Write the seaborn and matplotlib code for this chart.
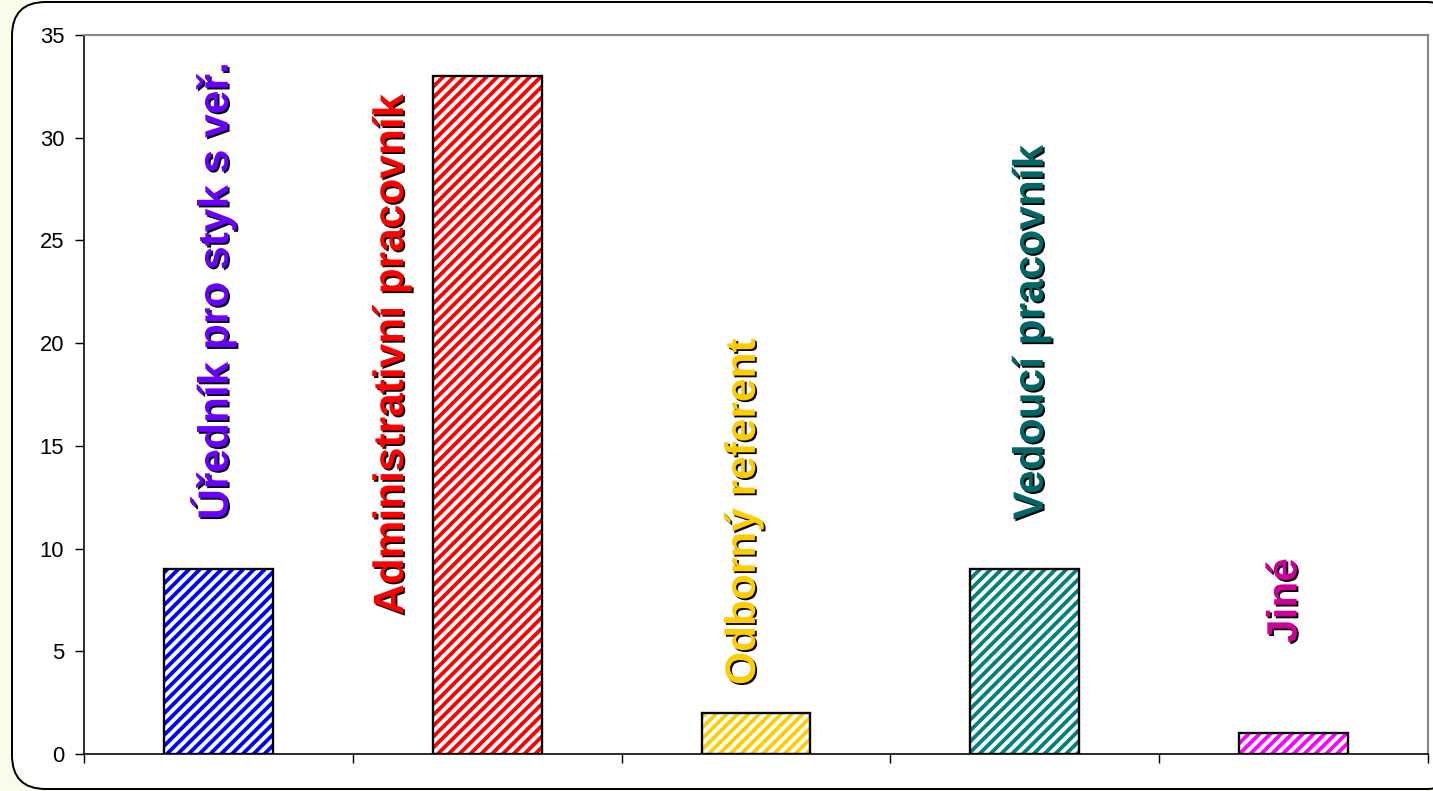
import matplotlib
matplotlib.use("Agg")
import matplotlib.pyplot as plt
import matplotlib.patheffects as pe
from matplotlib.patches import FancyBboxPatch
import seaborn as sns
import pandas as pd

# ---- data ----
categories = ["Úředník pro styk s veř.", "Administrativní pracovník",
              "Odborný referent", "Vedoucí pracovník", "Jiné"]
values = [9, 33, 2, 9, 1]
y_ticks = [0, 5, 10, 15, 20, 25, 30, 35]

# ---- styles / label placement ----
bar_colors = ["#0000ff", "#ff0000", "#ffcc00", "#008080", "#ff00ff"]
label_colors = ["#6a00ff", "#ff0000", "#ffcc00", "#006666", "#cc0099"]
label_dx = [-0.02, -0.354, -0.045, 0.026, -0.03]
label_y = [11.4, 6.77, 3.36, 11.4, 5.4]

sns.set_theme(style="white")
plt.rcParams["font.family"] = ["Liberation Sans", "DejaVu Sans"]
plt.rcParams["hatch.linewidth"] = 2.1

DPI = 130
W, H = 1433, 791
fig = plt.figure(figsize=(W / DPI, H / DPI), dpi=DPI, facecolor="#fbfbe9")

# rounded chart-area frame
box = FancyBboxPatch((12 / DPI, 2 / DPI), (1460 - 12) / DPI, (789 - 2) / DPI,
                     boxstyle="round,pad=0,rounding_size=0.26",
                     transform=fig.dpi_scale_trans, facecolor="white",
                     edgecolor="black", linewidth=1.1, zorder=-1)
fig.add_artist(box)

ax = fig.add_axes([84 / W, 1 - 754 / H, (1428 - 84) / W, (754 - 35) / H])
ax.set_facecolor("white")

df = pd.DataFrame({"cat": categories, "val": values})

# hatched fill layer
sns.barplot(data=df, x="cat", y="val", hue="cat", palette=bar_colors,
            width=0.405, saturation=1, errorbar=None, legend=False,
            linewidth=0, ax=ax)
for patch, col in zip(ax.patches, bar_colors):
    patch.set_facecolor("white")
    patch.set_edgecolor(col)
    patch.set_hatch("////")
    patch.set_linewidth(0)

# black outline layer
sns.barplot(data=df, x="cat", y="val", color="black", fill=False,
            width=0.405, errorbar=None, linewidth=1.3, ax=ax)

ax.set_xlim(-0.5, len(categories) - 0.5)
ax.set_ylim(0, 35)
ax.set_yticks(y_ticks)
ax.set_yticklabels([str(t) for t in y_ticks], fontsize=12.2, color="black")
ax.set_xticks([i - 0.5 for i in range(len(categories) + 1)])
ax.set_xticklabels([""] * (len(categories) + 1))
ax.set_xlabel("")
ax.set_ylabel("")
ax.tick_params(axis="both", which="both", direction="out", bottom=True,
               left=True, length=5, width=0.8, color="black", pad=6)

for side in ["left", "bottom"]:
    ax.spines[side].set_color("black")
    ax.spines[side].set_linewidth(0.9)
for side in ["top", "right"]:
    ax.spines[side].set_color("#888888")
    ax.spines[side].set_linewidth(1.2)

for i, (cat, col) in enumerate(zip(categories, label_colors)):
    ax.text(i + label_dx[i], label_y[i], cat, rotation=90, ha="center",
            va="bottom", color=col, fontsize=23.5, fontweight="bold",
            path_effects=[pe.withSimplePatchShadow(offset=(1.0, -1.0),
                                                   shadow_rgbFace="black",
                                                   alpha=1.0)])

fig.savefig("out.png", dpi=DPI, facecolor=fig.get_facecolor())
